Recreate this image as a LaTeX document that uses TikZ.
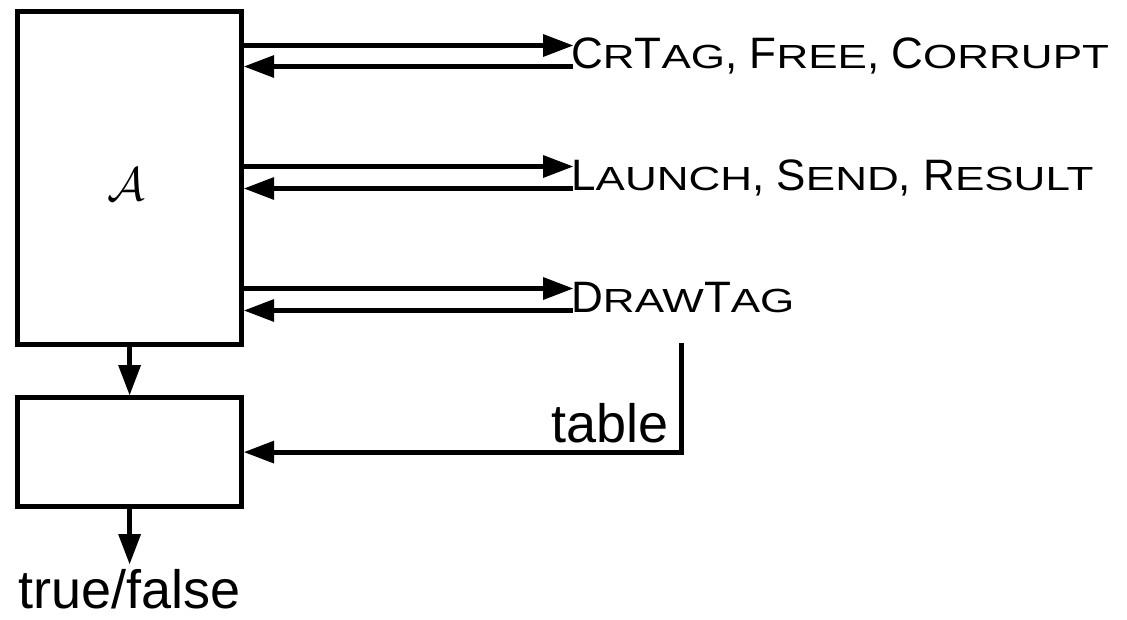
\documentclass[tikz,border=0pt]{standalone}
\usepackage{graphicx}
\usepackage{fontspec}
\setmainfont{Liberation Sans}
\usetikzlibrary{arrows.meta}
\newcommand\sct[1]{\scalebox{1}[0.76]{#1}}
\begin{document}
\begin{tikzpicture}[x=1pt,y=-1pt,
  box/.style={draw,line width=5pt,rectangle,inner sep=0pt,outer sep=2.5pt},
  arr/.style={line width=5pt,-{Triangle[length=30pt,width=23pt,line width=0pt]}},
  lab/.style={inner sep=0pt,anchor=base west,font=\fontsize{44}{48}\selectfont},
  big/.style={inner sep=0pt,font=\fontsize{54}{58}\selectfont}]
\useasboundingbox (0,0) rectangle (1127,619);
\node[box,minimum width=224.2pt,minimum height=332.8pt] (A) at (129.6,178.1) {};
\node[inner sep=0pt] (Asym) at (126,184) {\scalebox{4.7}{$\mathcal{A}$}};
\node[box,minimum width=224.2pt,minimum height=109.2pt] (B) at (129.6,452.1) {};
% labels
\node[lab] (l1) at (571,68) {C\sct{R}T\sct{AG}, F\sct{REE}, C\sct{ORRUPT}};
\node[lab] (l2) at (571,190) {L\sct{AUNCH}, S\sct{END}, R\sct{ESULT}};
\node[lab] (l3) at (571,312) {D\sct{RAW}T\sct{AG}};
\node[big,anchor=base east] (tab) at (669,442) {table};
\node[big,anchor=base] (tf) at (129.6,608) {true/false};
% free ends
\coordinate (r1) at (573,45.5);
\coordinate (s1) at (573,66.5);
\coordinate (r2) at (573,166.5);
\coordinate (s2) at (573,188.5);
\coordinate (r3) at (573,288.5);
\coordinate (s3) at (573,310.5);
\coordinate (t0) at (681,343);
\coordinate (out) at (129.6,564);
% connectors
\draw[arr] (A.east |- r1) -- (r1);
\draw[arr] (s1) -- (A.east |- s1);
\draw[arr] (A.east |- r2) -- (r2);
\draw[arr] (s2) -- (A.east |- s2);
\draw[arr] (A.east |- r3) -- (r3);
\draw[arr] (s3) -- (A.east |- s3);
\draw[arr] (A.south) -- (B.north);
\draw[arr] (B.south) -- (out);
\draw[arr] (t0) |- (B.east);
\end{tikzpicture}
\end{document}
